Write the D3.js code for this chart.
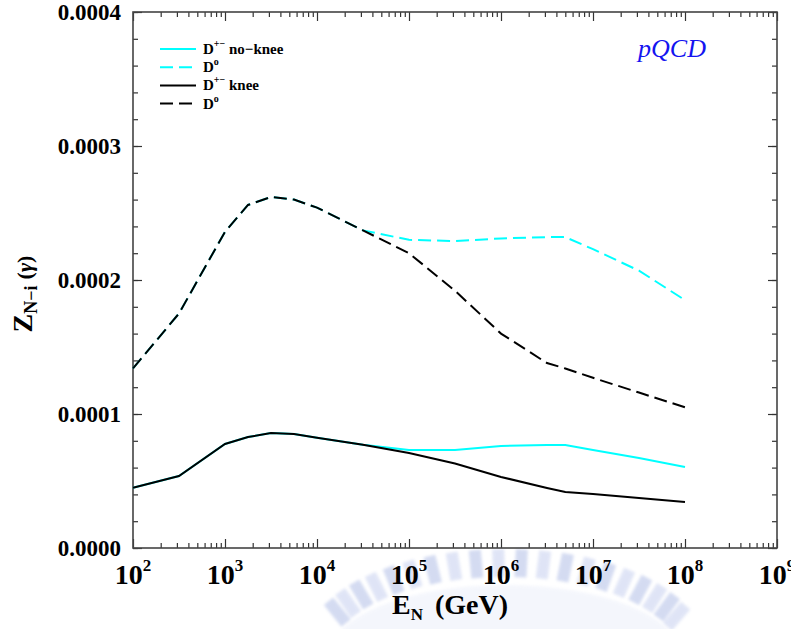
<!DOCTYPE html>
<html lang="en">

<head>
    <meta charset="UTF-8" />
    <title>pQCD Z moments</title>
    <script src="https://d3js.org/d3.v7.min.js"></script>
    <style>
        body { margin: 0; background: #fff; }
        text { font-family: "Liberation Serif", "Times New Roman", serif; }
    </style>
</head>

<body>
    <div id="chart"></div>

    <script>
        var w = 791;
        var h = 629;
        var plotLeft = 133, plotRight = 777, plotTop = 12, plotBottom = 548;

        // energies E_N (GeV) of the computed points
        var energies = [1e2, 3.16e2, 1e3, 1.78e3, 3.16e3, 5.62e3, 1e4, 3.16e4, 1e5, 3.16e5, 1e6, 3.16e6, 5e6, 1e7, 3.16e7, 1e8];

        // Z values
        var noKneeDpm = [0.0000450, 0.0000537, 0.0000776, 0.0000828, 0.0000858, 0.0000851, 0.0000823, 0.0000771,
            0.0000731, 0.0000731, 0.0000761, 0.0000769, 0.0000769, 0.0000732, 0.0000672, 0.0000604];
        var noKneeD0 = [0.000134, 0.000175, 0.000236, 0.000256, 0.000262, 0.000260, 0.000254, 0.000237,
            0.000230, 0.000229, 0.000231, 0.000232, 0.000232, 0.000223, 0.000207, 0.000185];
        var kneeDpm = [0.0000450, 0.0000537, 0.0000776, 0.0000828, 0.0000858, 0.0000851, 0.0000823, 0.0000771,
            0.0000709, 0.0000630, 0.0000530, 0.0000448, 0.0000418, 0.0000403, 0.0000373, 0.0000343];
        var kneeD0 = [0.000134, 0.000175, 0.000236, 0.000256, 0.000262, 0.000260, 0.000254, 0.000237,
            0.000220, 0.000192, 0.000160, 0.000138, 0.000134, 0.000127, 0.000116, 0.000105];

        var xTickExps = [2, 3, 4, 5, 6, 7, 8, 9];
        var yTickValues = [0, 0.0001, 0.0002, 0.0003, 0.0004];
        var yTickLabels = ["0.0000", "0.0001", "0.0002", "0.0003", "0.0004"];

        var series = [
            { values: noKneeDpm, color: "#00ffff", dash: null, sup: "+\u2212", rest: " no\u2212knee" },
            { values: noKneeD0, color: "#00ffff", dash: "13,6", sup: "o", rest: "" },
            { values: kneeDpm, color: "#000000", dash: null, sup: "+\u2212", rest: " knee" },
            { values: kneeD0, color: "#000000", dash: "13,6", sup: "o", rest: "" }
        ];

        var svg = d3.select("#chart")
            .append("svg")
            .attr("width", w)
            .attr("height", h);

        svg.append("defs").append("filter")
            .attr("id", "soft")
            .append("feGaussianBlur")
            .attr("stdDeviation", 1.6);

        // faint emblem watermark behind the x axis title
        var wm = svg.append("g").attr("opacity", 0.38).attr("filter", "url(#soft)");
        wm.append("ellipse")
            .attr("cx", 505).attr("cy", 655)
            .attr("rx", 175).attr("ry", 70)
            .attr("fill", "#e4e9f8");
        d3.range(22, 160, 7).forEach(function (a) {
            var t = a * Math.PI / 180;
            var cx = 505 + 185 * Math.cos(t), cy = 648 - 85 * Math.sin(t);
            wm.append("rect")
                .attr("x", cx - 6).attr("y", cy - 14)
                .attr("width", 12).attr("height", 28)
                .attr("fill", a % 14 === 1 ? "#8fa2dc" : "#aebbe8")
                .attr("transform", "rotate(" + (90 - a) * 0.6 + "," + cx + "," + cy + ")");
        });

        var xScale = d3.scaleLog()
            .domain([1e2, 1e9])
            .range([plotLeft, plotRight]);

        var yScale = d3.scaleLinear()
            .domain([0, 0.0004])
            .range([plotBottom, plotTop]);

        // tick positions
        var xMajor = xTickExps.map(function (e) { return Math.pow(10, e); });
        var xMinor = [];
        for (var e = 2; e < 9; e++) {
            for (var m = 2; m <= 9; m++) xMinor.push(m * Math.pow(10, e));
        }
        var yMinor = d3.range(0, 0.000401, 0.00002);

        function noDomain(g) {
            g.select(".domain").remove();
            g.selectAll(".tick line").attr("stroke", "#333").attr("stroke-width", 1.2);
        }

        // ticks point into the plot on all four sides
        [[d3.axisTop, plotBottom], [d3.axisBottom, plotTop]].forEach(function (a) {
            svg.append("g").attr("transform", "translate(0," + a[1] + ")")
                .call(a[0](xScale).tickValues(xMinor).tickSize(5).tickFormat("")).call(noDomain);
            svg.append("g").attr("transform", "translate(0," + a[1] + ")")
                .call(a[0](xScale).tickValues(xMajor).tickSize(9).tickFormat("")).call(noDomain);
        });
        [[d3.axisRight, plotLeft], [d3.axisLeft, plotRight]].forEach(function (a) {
            svg.append("g").attr("transform", "translate(" + a[1] + ",0)")
                .call(a[0](yScale).tickValues(yMinor).tickSize(5).tickFormat("")).call(noDomain);
            svg.append("g").attr("transform", "translate(" + a[1] + ",0)")
                .call(a[0](yScale).tickValues(yTickValues).tickSize(9).tickFormat("")).call(noDomain);
        });

        svg.append("rect")
            .attr("x", plotLeft).attr("y", plotTop)
            .attr("width", plotRight - plotLeft).attr("height", plotBottom - plotTop)
            .attr("fill", "none")
            .attr("stroke", "#444")
            .attr("stroke-width", 1.6);

        // curves
        var line = d3.line()
            .x(function (d, i) { return xScale(energies[i]); })
            .y(function (d) { return yScale(d); });

        series.forEach(function (s) {
            svg.append("path")
                .datum(s.values)
                .attr("fill", "none")
                .attr("stroke", s.color)
                .attr("stroke-width", 2)
                .attr("stroke-dasharray", s.dash)
                .attr("d", line);
        });

        // x tick labels 10^n
        xTickExps.forEach(function (e) {
            var t = svg.append("text")
                .attr("x", xScale(Math.pow(10, e)))
                .attr("y", 584)
                .attr("text-anchor", "middle")
                .attr("font-weight", "bold")
                .attr("font-size", 28);
            t.append("tspan").text("10");
            t.append("tspan").attr("font-size", 17).attr("dy", -13).text(e);
        });

        // y tick labels
        yTickValues.forEach(function (v, i) {
            svg.append("text")
                .attr("x", 121)
                .attr("y", yScale(v))
                .attr("dy", "0.36em")
                .attr("text-anchor", "end")
                .attr("font-weight", "bold")
                .attr("font-size", 23)
                .text(yTickLabels[i]);
        });

        // axis titles
        var xt = svg.append("text")
            .attr("x", 450).attr("y", 614)
            .attr("text-anchor", "middle")
            .attr("font-weight", "bold")
            .attr("font-size", 28);
        xt.append("tspan").text("E");
        xt.append("tspan").attr("font-size", 17).attr("dy", 6).text("N");
        xt.append("tspan").attr("dy", -6).attr("dx", 12).text("(GeV)");

        var yt = svg.append("text")
            .attr("transform", "translate(32,294) rotate(-90)")
            .attr("text-anchor", "middle")
            .attr("font-weight", "bold")
            .attr("font-size", 28);
        yt.append("tspan").text("Z");
        yt.append("tspan").attr("font-size", 18).attr("dy", 5).text("N\u2212i");
        yt.append("tspan").attr("font-size", 22).attr("dy", -5).attr("dx", 6).text("(");
        yt.append("tspan").attr("font-size", 22).attr("font-style", "italic").text("\u03b3");
        yt.append("tspan").attr("font-size", 22).text(")");

        // legend
        var legend = svg.append("g").attr("transform", "translate(160,49)");
        series.forEach(function (s, i) {
            var y = i * 18.2;
            legend.append("line")
                .attr("x1", 0).attr("x2", 36)
                .attr("y1", y).attr("y2", y)
                .attr("stroke", s.color)
                .attr("stroke-width", 2)
                .attr("stroke-dasharray", s.dash);
            var t = legend.append("text")
                .attr("x", 43).attr("y", y + 5)
                .attr("font-weight", "bold")
                .attr("font-size", 15);
            t.append("tspan").text("D");
            t.append("tspan").attr("font-size", 10).attr("dy", -7).text(s.sup);
            if (s.rest) t.append("tspan").attr("dy", 7).text(s.rest);
        });

        svg.append("text")
            .attr("x", 672).attr("y", 57)
            .attr("text-anchor", "middle")
            .attr("font-style", "italic")
            .attr("font-size", 26)
            .attr("fill", "#1414f0")
            .text("pQCD");
    </script>
</body>

</html>
